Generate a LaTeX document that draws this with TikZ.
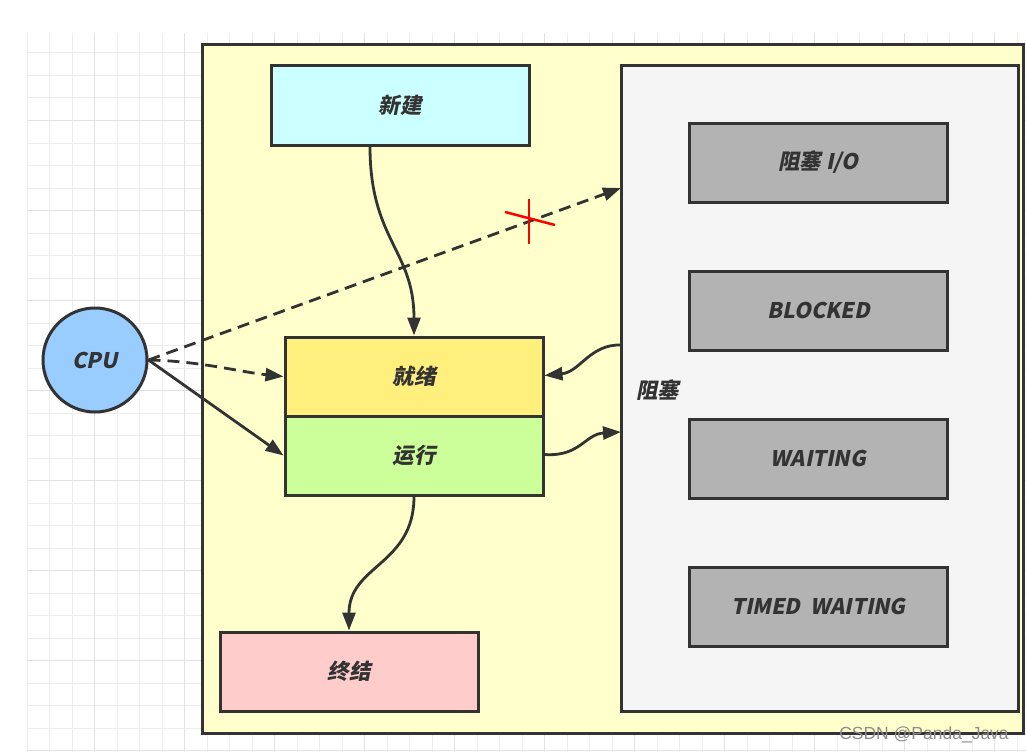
\documentclass[tikz,border=0pt]{standalone}
\usepackage{fontspec}
\newfontfamily\lbl{Noto Sans CJK SC}[FakeSlant=0.2]
\setmainfont{Liberation Sans}
\usetikzlibrary{arrows.meta}
\definecolor{bordc}{HTML}{333333}
\definecolor{gridc}{HTML}{EDEDED}
\definecolor{gridm}{HTML}{E2E2E2}
\definecolor{yelbg}{HTML}{FFFFCC}
\definecolor{newc}{HTML}{CCFFFF}
\definecolor{blkbg}{HTML}{F5F5F5}
\definecolor{blkc}{HTML}{B3B3B3}
\definecolor{readyc}{HTML}{FFEF7D}
\definecolor{runc}{HTML}{CCFF99}
\definecolor{endc}{HTML}{FFCCCC}
\definecolor{cpuc}{HTML}{99CCFF}
\tikzset{
  lblfont/.style={font=\lbl\bfseries\fontsize{21.5}{21.5}\selectfont, text=bordc},
  box/.style={draw=bordc, line width=3pt, minimum width=258pt, minimum height=79pt, inner sep=0pt, lblfont},
  conn/.style={draw=bordc, line width=2.8pt, -{Triangle[length=18pt,width=13pt]}},
  dconn/.style={conn, dash pattern=on 12pt off 7pt},
}
\begin{document}
\begin{tikzpicture}[x=1pt,y=-1pt]
\path[use as bounding box, fill=white] (0,0) rectangle (1026,752);
% grid
\foreach \i in {0,...,44} {\draw[gridc, line width=1pt] (27+\i*22.5,33) -- (27+\i*22.5,752);}
\foreach \i in {0,...,31} {\draw[gridc, line width=1pt] (27,53+\i*22.5) -- (1026,53+\i*22.5);}
\foreach \i in {0,...,10} {\draw[gridm, line width=1pt] (94.5+\i*90,33) -- (94.5+\i*90,752);}
\foreach \i in {0,...,7} {\draw[gridm, line width=1pt] (27,120.5+\i*90) -- (1026,120.5+\i*90);}
% outer yellow
\draw[draw=bordc, fill=yelbg, line width=3pt] (202,44.5) rectangle (1023,733);
% blocked container
\node[draw=bordc, fill=blkbg, line width=3pt, minimum width=397pt, minimum height=645pt, inner sep=0pt] (blk) at (819.5,388.5) {};
\node[lblfont, anchor=west, inner sep=0pt] (blklbl) at (636,390) {阻塞};
\node[box, fill=blkc] (bio) at (818.5,162.5) {阻塞 I/O};
\node[box, fill=blkc] (bb) at (818.5,310.5) {BLOCKED};
\node[box, fill=blkc] (bw) at (818.5,458.5) {WAITING};
\node[box, fill=blkc] (btw) at (818.5,606.5) {TIMED\ \ WAITING};
% states
\node[box, fill=newc] (xj) at (400,105.5) {新建};
\node[box, fill=readyc] (jx) at (414,376.5) {就绪};
\node[box, fill=runc] (yx) at (414,455.5) {运行};
\node[box, fill=endc] (zj) at (349,671.5) {终结};
\node[circle, draw=bordc, fill=cpuc, line width=3pt, minimum size=104pt, inner sep=0pt, lblfont] (cpu) at (95,360) {CPU};
% connectors
\coordinate (t1) at (621,188);
\coordinate (t2) at (621,345);
\coordinate (t3) at (621,432);
\draw[conn] ([xshift=-30pt]xj.south) .. controls (370,240) and (414,250) .. (jx.north);
\draw[conn] (yx.south) .. controls (414,565) and (349,565) .. (zj.north);
\draw[dconn] (cpu.east) -- (t1);
\draw[dconn] (cpu.east) .. controls (200,361) and (240,372) .. (jx.west);
\draw[conn] (cpu.east) -- (yx.west);
\draw[conn] (t2) .. controls (590,344) and (580,372) .. ([yshift=1pt]jx.east);
\draw[conn] ([yshift=1pt]yx.east) .. controls (580,457) and (585,434) .. (t3);
% red cross
\coordinate (c1) at (529,199);
\coordinate (c2) at (529,244);
\coordinate (c3) at (505,212);
\coordinate (c4) at (555,225);
\draw[red, line width=2.5pt] (c1) -- (c2);
\draw[red, line width=2.5pt] (c3) -- (c4);
% watermark
\node[text=gray!90, font=\fontsize{17.5}{17.5}\selectfont, inner sep=0pt] (wm) at (924,735) {CSDN @Panda\_Java};
\end{tikzpicture}
\end{document}
